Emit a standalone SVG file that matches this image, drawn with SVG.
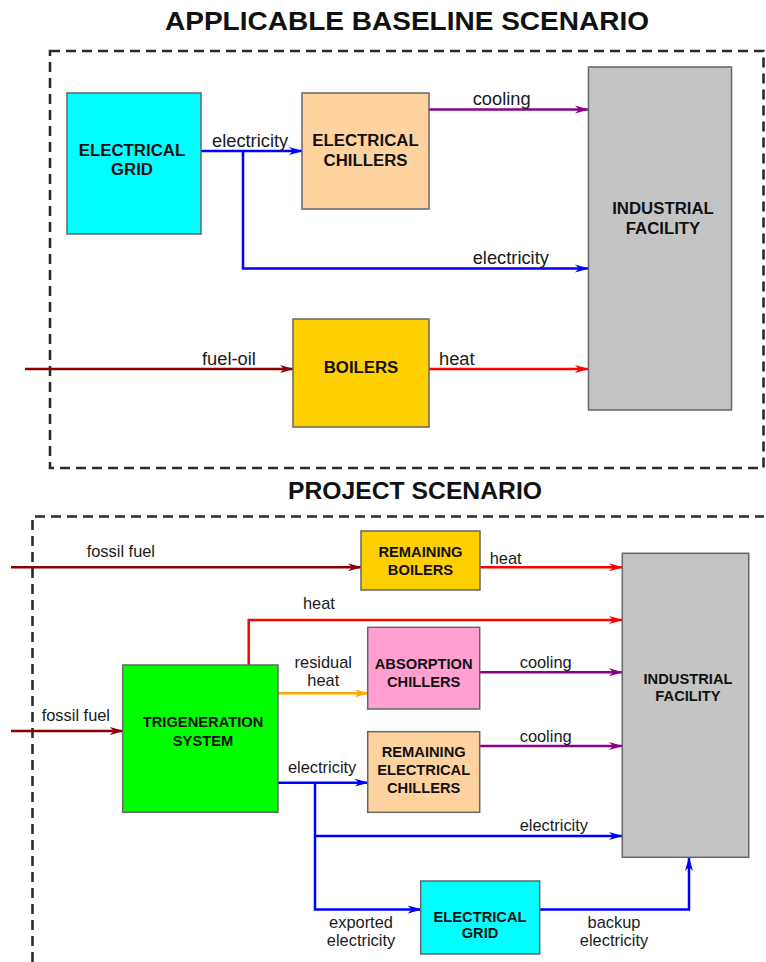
<svg xmlns="http://www.w3.org/2000/svg" width="766" height="962" viewBox="0 0 766 962">
<style>
.bg{fill:#ffffff}
.frame{fill:none;stroke:#2a2a2a;stroke-width:2.6;stroke-dasharray:10 6}
.box{stroke:#666666;stroke-width:1.5}
.title{font-family:"Liberation Sans",Arial,sans-serif;font-weight:bold;fill:#111111;text-anchor:middle}
.nl{font-family:"Liberation Sans",Arial,sans-serif;font-weight:bold;fill:#111111;text-anchor:middle;font-size:16.8px}
.nls{font-family:"Liberation Sans",Arial,sans-serif;font-weight:bold;fill:#111111;text-anchor:middle;font-size:14.7px}
.el{font-family:"Liberation Sans",Arial,sans-serif;fill:#1a1a1a;font-size:18.3px}
.els{font-family:"Liberation Sans",Arial,sans-serif;fill:#1a1a1a;font-size:16.4px}
.mid{text-anchor:middle}
.c{fill:none;stroke-width:2.5}
.blue{stroke:#0000ff}
.purple{stroke:#8b008b}
.red{stroke:#ff0000}
.dred{stroke:#8b0000}
.orange{stroke:#ffa500}
</style>
<defs>
<marker id="ab" viewBox="0 0 14 10" refX="13" refY="5" markerWidth="14" markerHeight="10" markerUnits="userSpaceOnUse" orient="auto"><path d="M0,1 L14,5 L0,9 L4,5 z" fill="#0000ff"/></marker>
<marker id="ap" viewBox="0 0 14 10" refX="13" refY="5" markerWidth="14" markerHeight="10" markerUnits="userSpaceOnUse" orient="auto"><path d="M0,1 L14,5 L0,9 L4,5 z" fill="#8b008b"/></marker>
<marker id="ar" viewBox="0 0 14 10" refX="13" refY="5" markerWidth="14" markerHeight="10" markerUnits="userSpaceOnUse" orient="auto"><path d="M0,1 L14,5 L0,9 L4,5 z" fill="#ff0000"/></marker>
<marker id="ad" viewBox="0 0 14 10" refX="13" refY="5" markerWidth="14" markerHeight="10" markerUnits="userSpaceOnUse" orient="auto"><path d="M0,1 L14,5 L0,9 L4,5 z" fill="#8b0000"/></marker>
<marker id="ao" viewBox="0 0 14 10" refX="13" refY="5" markerWidth="14" markerHeight="10" markerUnits="userSpaceOnUse" orient="auto"><path d="M0,1 L14,5 L0,9 L4,5 z" fill="#ffa500"/></marker>
</defs>
<rect class="bg" x="0" y="0" width="766" height="962"/>

<g id="titles">
<text class="title" x="407" y="30" font-size="25" textLength="484" lengthAdjust="spacingAndGlyphs">APPLICABLE BASELINE SCENARIO</text>
<text class="title" x="415" y="499" font-size="23" textLength="254" lengthAdjust="spacingAndGlyphs">PROJECT SCENARIO</text>
</g>

<g id="frames">
<rect class="frame" x="50" y="51" width="713.5" height="417"/>
<path class="frame" d="M32.5,962 V516.5 H764"/>
</g>

<g id="connectors">
<!-- baseline -->
<path class="c blue" d="M201,151 H302" marker-end="url(#ab)"/>
<path class="c blue" d="M243,151 V268.5 H588" marker-end="url(#ab)"/>
<path class="c purple" d="M429,109.5 H588" marker-end="url(#ap)"/>
<path class="c dred" d="M25,369 H293" marker-end="url(#ad)"/>
<path class="c red" d="M429,369 H588" marker-end="url(#ar)"/>
<!-- project -->
<path class="c dred" d="M11,567.3 H361" marker-end="url(#ad)"/>
<path class="c red" d="M480,567.3 H622" marker-end="url(#ar)"/>
<path class="c red" d="M248.7,665 V620 H622" marker-end="url(#ar)"/>
<path class="c orange" d="M278,693.3 H367.7" marker-end="url(#ao)"/>
<path class="c purple" d="M480,672.3 H622" marker-end="url(#ap)"/>
<path class="c dred" d="M11,731 H122.7" marker-end="url(#ad)"/>
<path class="c blue" d="M278,782.7 H367.7" marker-end="url(#ab)"/>
<path class="c blue" d="M315,782.7 V909.5 H420.7" marker-end="url(#ab)"/>
<path class="c blue" d="M315,836 H622" marker-end="url(#ab)"/>
<path class="c purple" d="M480,746 H622" marker-end="url(#ap)"/>
<path class="c blue" d="M539.7,909.5 H689 V858" marker-end="url(#ab)"/>
</g>

<g id="connector-labels">
<text class="el" x="212" y="146.5">electricity</text>
<text class="el" x="472.7" y="105">cooling</text>
<text class="el" x="472.7" y="264">electricity</text>
<text class="el" x="202" y="365">fuel-oil</text>
<text class="el" x="439" y="365">heat</text>
<text class="els" x="86.7" y="556.7">fossil fuel</text>
<text class="els" x="489.7" y="564.3">heat</text>
<text class="els" x="303" y="609">heat</text>
<text class="els mid" x="323.3" y="668.3">residual</text>
<text class="els mid" x="323.3" y="686">heat</text>
<text class="els" x="519.7" y="668.3">cooling</text>
<text class="els" x="41.7" y="720.7">fossil fuel</text>
<text class="els" x="519.7" y="742.3">cooling</text>
<text class="els" x="288" y="772.7">electricity</text>
<text class="els" x="519.7" y="831">electricity</text>
<text class="els mid" x="361" y="928.3">exported</text>
<text class="els mid" x="361" y="946">electricity</text>
<text class="els mid" x="614" y="928.3">backup</text>
<text class="els mid" x="614" y="946">electricity</text>
</g>

<g id="grid1">
<rect class="box" x="67" y="93" width="134" height="141" fill="#00ffff"/>
<text class="nl" x="132" y="156">ELECTRICAL</text>
<text class="nl" x="132" y="175">GRID</text>
</g>
<g id="chillers1">
<rect class="box" x="302" y="93" width="127" height="116" fill="#ffd3a0"/>
<text class="nl" x="365.5" y="146">ELECTRICAL</text>
<text class="nl" x="365.5" y="166">CHILLERS</text>
</g>
<g id="facility1">
<rect class="box" x="588.5" y="67" width="143" height="343" fill="#c4c4c4"/>
<text class="nl" x="663" y="214">INDUSTRIAL</text>
<text class="nl" x="663" y="234">FACILITY</text>
</g>
<g id="boilers1">
<rect class="box" x="293" y="319" width="136" height="108" fill="#ffd000"/>
<text class="nl" x="361" y="373">BOILERS</text>
</g>

<g id="rboilers">
<rect class="box" x="361" y="531" width="119" height="59" fill="#ffd000"/>
<text class="nls" x="420.5" y="556.7">REMAINING</text>
<text class="nls" x="420.5" y="575">BOILERS</text>
</g>
<g id="trigen">
<rect class="box" x="122.7" y="665" width="155.3" height="147.3" fill="#00ff00"/>
<text class="nls" x="203" y="726.7">TRIGENERATION</text>
<text class="nls" x="203" y="746">SYSTEM</text>
</g>
<g id="absorption">
<rect class="box" x="367.7" y="627.3" width="112" height="81.7" fill="#ffa0d0"/>
<text class="nls" x="423.7" y="669.3">ABSORPTION</text>
<text class="nls" x="423.7" y="686.7">CHILLERS</text>
</g>
<g id="rchillers">
<rect class="box" x="367.7" y="731.7" width="112" height="80.6" fill="#ffd3a0"/>
<text class="nls" x="423.7" y="756.7">REMAINING</text>
<text class="nls" x="423.7" y="775">ELECTRICAL</text>
<text class="nls" x="423.7" y="792.7">CHILLERS</text>
</g>
<g id="facility2">
<rect class="box" x="622.3" y="553.3" width="126.4" height="304" fill="#c4c4c4"/>
<text class="nls" x="688" y="684">INDUSTRIAL</text>
<text class="nls" x="688" y="701">FACILITY</text>
</g>
<g id="grid2">
<rect class="box" x="420.7" y="881" width="119" height="73" fill="#00ffff"/>
<text class="nls" x="480" y="921.7">ELECTRICAL</text>
<text class="nls" x="480" y="938.3">GRID</text>
</g>
</svg>
